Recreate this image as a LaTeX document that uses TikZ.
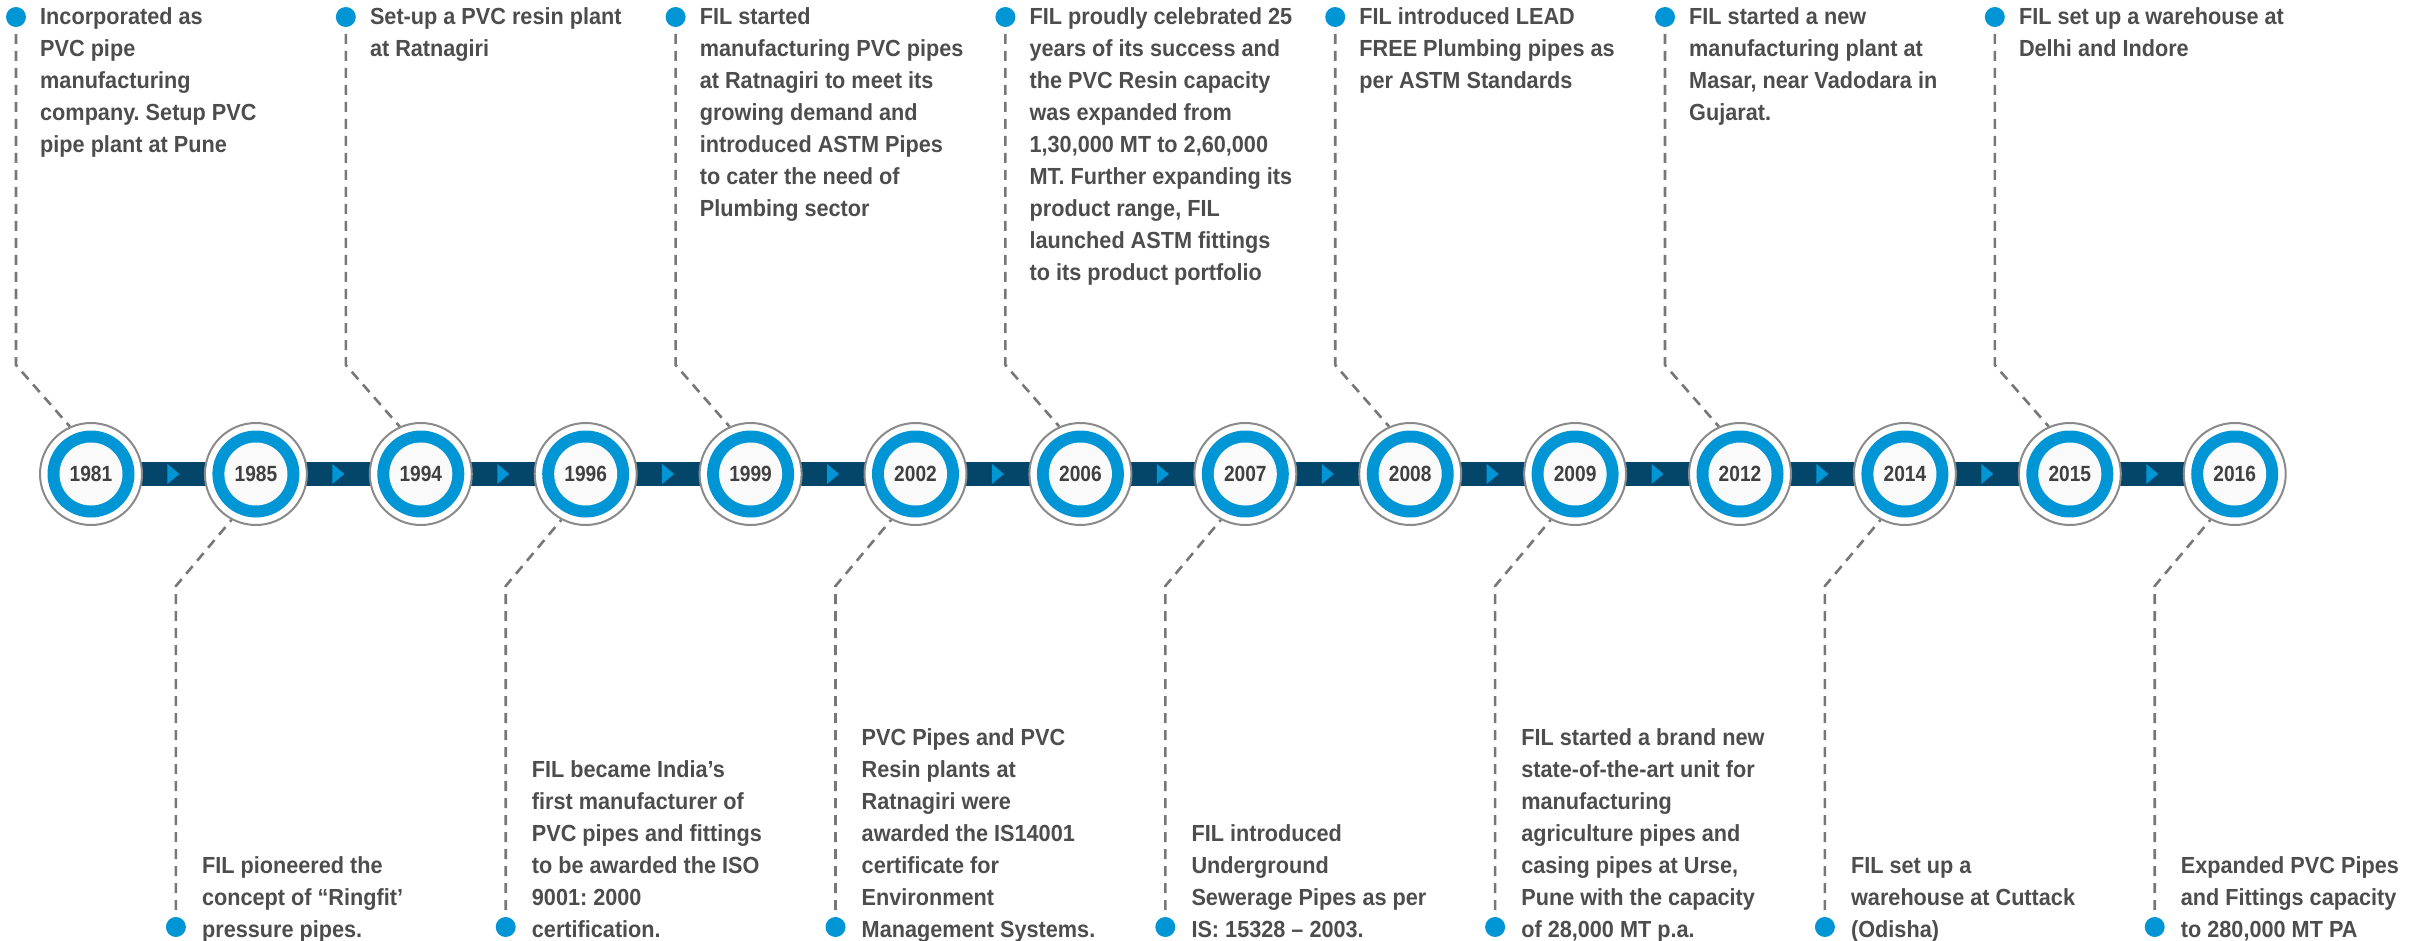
\documentclass[tikz,border=0pt]{standalone}
\usepackage{fontspec}
\setmainfont[FakeStretch=0.93]{Liberation Sans}
\newfontfamily\yearfont[FakeStretch=0.87]{Liberation Sans}
\usetikzlibrary{calc,backgrounds}
\frenchspacing
\definecolor{fblue}{HTML}{0096D6}
\definecolor{fnavy}{HTML}{03466A}
\definecolor{ftext}{HTML}{4D4D4D}
\definecolor{fyear}{HTML}{404040}
\definecolor{fdash}{HTML}{777777}
\definecolor{fring}{HTML}{8A8A8A}
\definecolor{finner}{HTML}{FAFAFA}
\tikzset{
 yearnode/.style={circle, draw=fring, line width=2pt, fill=white, minimum size=102pt, inner sep=0pt,
   path picture={\fill[fblue] (path picture bounding box.center) circle (43.5pt);
                 \fill[finner] (path picture bounding box.center) circle (31.5pt);},
   font=\yearfont\bfseries\fontsize{22}{22}\selectfont, text=fyear},
 dotnode/.style={circle, fill=fblue, minimum size=20pt, inner sep=0pt},
 desc/.style={align=left, inner sep=0pt, text=ftext, font=\bfseries\fontsize{23.3}{32}\selectfont, anchor=base west},
 dashline/.style={draw=fdash, line width=2.6pt, dash pattern=on 10pt off 7pt},
 tick/.style={fill=fblue},
}
\begin{document}
\begin{tikzpicture}[x=1pt,y=-1pt]
\useasboundingbox (0,0) rectangle (2430,941);
% year circles
\foreach \yr [count=\i] in {1981,1985,1994,1996,1999,2002,2006,2007,2008,2009,2012,2014,2015,2016}{
  \node[yearnode] (y\i) at ({91+164.9*(\i-1)},474) {\yr};
}
% top dots and texts (node base = baseline of last line)
\node[dotnode] (t1) at (16,17) {};
\node[desc] (d1) at (40,153) {Incorporated as\\PVC pipe\\manufacturing\\company. Setup PVC\\pipe plant at Pune};
\node[dotnode] (t3) at (345.8,17) {};
\node[desc] (d3) at (369.8,57) {Set-up a PVC resin plant\\at Ratnagiri};
\node[dotnode] (t5) at (675.6,17) {};
\node[desc] (d5) at (699.6,217) {FIL started\\manufacturing PVC pipes\\at Ratnagiri to meet its\\growing demand and\\introduced ASTM Pipes\\to cater the need of\\Plumbing sector};
\node[dotnode] (t7) at (1005.4,17) {};
\node[desc] (d7) at (1029.4,281) {FIL proudly celebrated 25\\years of its success and\\the PVC Resin capacity\\was expanded from\\1,30,000 MT to 2,60,000\\MT. Further expanding its\\product range, FIL\\launched ASTM fittings\\to its product portfolio};
\node[dotnode] (t9) at (1335.2,17) {};
\node[desc] (d9) at (1359.2,89) {FIL introduced LEAD\\FREE Plumbing pipes as\\per ASTM Standards};
\node[dotnode] (t11) at (1665,17) {};
\node[desc] (d11) at (1689,121) {FIL started a new\\manufacturing plant at\\Masar, near Vadodara in\\Gujarat.};
\node[dotnode] (t13) at (1994.8,17) {};
\node[desc] (d13) at (2018.8,57) {FIL set up a warehouse at\\Delhi and Indore};
% bottom dots and texts
\node[dotnode] (t2) at (175.9,927) {};
\node[desc] (d2) at (201.9,937) {FIL pioneered the\\concept of “Ringfit’\\pressure pipes.};
\node[dotnode] (t4) at (505.7,927) {};
\node[desc] (d4) at (531.7,937) {FIL became India’s\\first manufacturer of\\PVC pipes and fittings\\to be awarded the ISO\\9001: 2000\\certification.};
\node[dotnode] (t6) at (835.5,927) {};
\node[desc] (d6) at (861.5,937) {PVC Pipes and PVC\\Resin plants at\\Ratnagiri were\\awarded the IS14001\\certificate for\\Environment\\Management Systems.};
\node[dotnode] (t8) at (1165.3,927) {};
\node[desc] (d8) at (1191.3,937) {FIL introduced\\Underground\\Sewerage Pipes as per\\IS: 15328 – 2003.};
\node[dotnode] (t10) at (1495.1,927) {};
\node[desc] (d10) at (1521.1,937) {FIL started a brand new\\state-of-the-art unit for\\manufacturing\\agriculture pipes and\\casing pipes at Urse,\\Pune with the capacity\\of 28,000 MT p.a.};
\node[dotnode] (t12) at (1824.9,927) {};
\node[desc] (d12) at (1850.9,937) {FIL set up a\\warehouse at Cuttack\\(Odisha)};
\node[dotnode] (t14) at (2154.7,927) {};
\node[desc] (d14) at (2180.7,937) {Expanded PVC Pipes\\and Fittings capacity\\to 280,000 MT PA};
\begin{pgfonlayer}{background}
  \fill[fnavy] ([yshift=12pt]y1.center) rectangle ([yshift=-12pt]y14.center);
  \foreach \i [evaluate=\i as \j using int(\i+1)] in {1,...,13}{
    \fill[tick] ($(y\i.center)!0.5!(y\j.center)$) ++(-6,-10) -- ++(0,20) -- ++(12,-10) -- cycle;
  }
  \foreach \i in {1,3,5,7,9,11,13}{
    \coordinate (k\i) at (t\i.center |- 0,365);
    \draw[dashline] (t\i.center) -- (k\i) -- (y\i.114);
  }
  \foreach \i in {2,4,6,8,10,12,14}{
    \coordinate (k\i) at (t\i.center |- 0,586);
    \draw[dashline] (t\i.center) -- (k\i) -- (y\i.-118);
  }
\end{pgfonlayer}
\end{tikzpicture}
\end{document}
